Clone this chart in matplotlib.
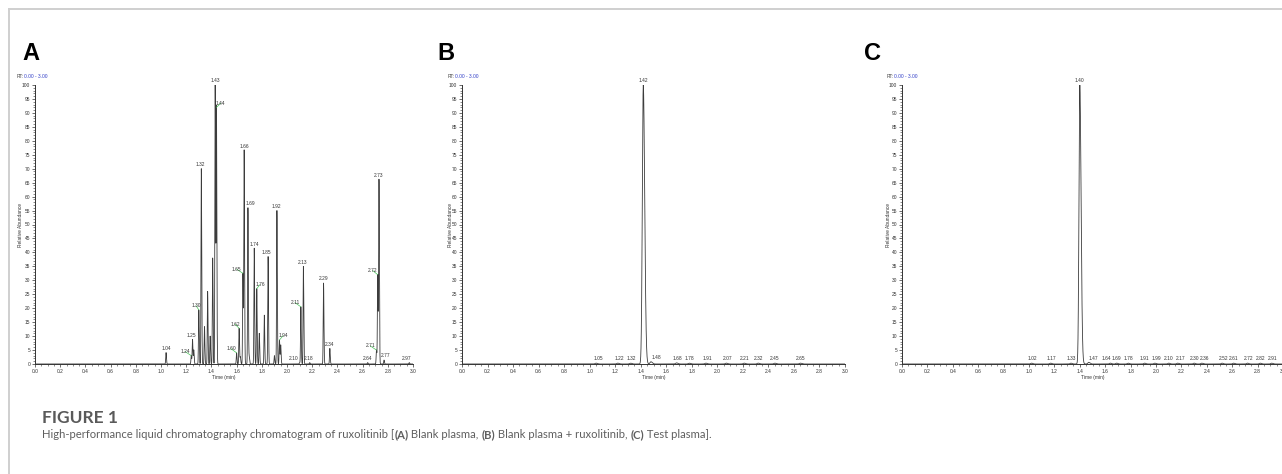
import numpy as np
import matplotlib
matplotlib.use("Agg")
import matplotlib.pyplot as plt
from matplotlib.lines import Line2D
from matplotlib.ticker import MultipleLocator, FixedLocator

# ---------------- data ----------------
# Panel A: blank plasma
a_rt = [1.04, 1.24, 1.25, 1.26, 1.30, 1.32, 1.345, 1.37, 1.39, 1.41, 1.43, 1.44,
        1.60, 1.62, 1.63, 1.65, 1.66, 1.69, 1.70, 1.74, 1.76, 1.78, 1.82, 1.85,
        1.90, 1.92, 1.94, 1.95, 2.10, 2.11, 2.13, 2.18, 2.29, 2.34, 2.64, 2.71,
        2.72, 2.73, 2.77, 2.97]
a_h = [4.1, 3.0, 8.8, 5.0, 19.4, 70.0, 13.4, 26.0, 10.0, 38.0, 100.0, 92.0,
       4.0, 12.8, 2.5, 32.5, 76.5, 56.0, 2.6, 41.5, 27.0, 11.0, 17.5, 38.5,
       3.0, 55.0, 8.6, 6.8, 0.5, 20.5, 35.0, 0.5, 29.0, 5.6, 0.5, 5.0,
       32.0, 66.0, 1.4, 0.5]
a_labels = ["1.04", "1.24", "1.25", "", "1.30", "1.32", "", "", "", "", "1.43", "1.44",
            "1.60", "1.62", "", "1.65", "1.66", "1.69", "", "1.74", "1.76", "", "", "1.85",
            "", "1.92", "1.94", "", "2.10", "2.11", "2.13", "2.18", "2.29", "2.34", "2.64", "2.71",
            "2.72", "2.73", "2.77", "2.97"]

# Panel B: blank plasma + ruxolitinib
b_rt = [1.05, 1.22, 1.32, 1.42, 1.48, 1.68, 1.78, 1.91, 2.07, 2.21, 2.32, 2.45, 2.65]
b_h = [0.3, 0.3, 0.3, 100.0, 0.8, 0.4, 0.3, 0.3, 0.3, 0.3, 0.3, 0.3, 0.3]
b_labels = ["1.05", "1.22", "1.32", "1.42", "1.48", "1.68", "1.78", "1.91", "2.07",
            "2.21", "2.32", "2.45", "2.65"]

# Panel C: test plasma
c_rt = [1.02, 1.17, 1.33, 1.40, 1.47, 1.64, 1.69, 1.78, 1.91, 1.99, 2.10, 2.17,
        2.30, 2.36, 2.52, 2.61, 2.72, 2.82, 2.91]
c_h = [0.3, 0.3, 0.3, 100.0, 0.6, 0.3, 0.3, 0.3, 0.3, 0.3, 0.3, 0.3,
       0.3, 0.3, 0.3, 0.3, 0.3, 0.3, 0.3]
c_labels = ["1.02", "1.17", "1.33", "1.40", "1.47", "1.64", "1.69", "1.78", "1.91",
            "1.99", "2.10", "2.17", "2.30", "2.36", "2.52", "2.61", "2.72", "2.82", "2.91"]

x_ticks = [0.0, 0.2, 0.4, 0.6, 0.8, 1.0, 1.2, 1.4, 1.6, 1.8, 2.0, 2.2, 2.4, 2.6, 2.8, 3.0]
y_ticks = list(range(0, 101, 5))

panel_letters = ["A", "B", "C"]
caption_title = "FIGURE 1"
caption_parts = [("High-performance liquid chromatography chromatogram of ruxolitinib [", False),
                 ("(A)", True), (" Blank plasma, ", False), ("(B)", True),
                 (" Blank plasma + ruxolitinib, ", False), ("(C)", True), (" Test plasma].", False)]

# ---------------- style / layout ----------------
W, H = 1282, 474
fig = plt.figure(figsize=(W / 100, H / 100), dpi=100)
FONT = "Liberation Sans"
TS = 3.5
LINE_C = "#3c3c3c"
GREEN = "#49c45a"

# label x-offsets (min) for labels that sit beside their peak
a_dx = {"1.24": -0.05, "1.25": -0.012, "1.30": -0.022, "1.32": -0.01, "1.44": 0.035,
        "1.60": -0.045, "1.62": -0.033, "1.65": -0.05, "1.69": 0.016, "1.76": 0.026,
        "1.85": -0.01, "1.94": 0.028, "2.10": -0.05, "2.11": -0.047, "2.13": -0.005,
        "2.18": -0.01, "2.71": -0.05, "2.72": -0.04, "2.77": 0.01, "2.97": -0.02}
b_dx = {"1.05": 0.015, "1.22": 0.01, "1.32": 0.01, "1.48": 0.04, "1.68": 0.01,
        "1.91": 0.01, "2.07": 0.01}
c_dx = {"1.02": 0.01, "1.17": 0.01, "1.47": 0.035, "1.64": -0.03, "1.99": 0.015,
        "2.17": 0.02, "2.36": 0.025, "2.52": 0.01, "2.72": 0.01, "2.91": 0.01}

t = np.linspace(0, 3.0, 15001)


def trace(rts, hs, sl, sr):
    y = np.zeros_like(t)
    for rt, h in zip(rts, hs):
        s = np.where(t < rt, sl, sr)
        y += h * np.exp(-0.5 * ((t - rt) / s) ** 2)
    return y


def make_axes(left_px, width_px, letter, letter_px, rt_px, ylab_px):
    ax = fig.add_axes([left_px / W, 1 - 364 / H, width_px / W, (364 - 85) / H])
    ax.set_xlim(0, 3.0)
    ax.set_ylim(0, 100)
    for s in ["top", "right"]:
        ax.spines[s].set_visible(False)
    for s in ["left", "bottom"]:
        ax.spines[s].set_linewidth(0.7)
        ax.spines[s].set_color("#333333")
    ax.xaxis.set_major_locator(FixedLocator(x_ticks))
    ax.set_xticklabels([f"{v:.1f}" for v in x_ticks])
    ax.xaxis.set_minor_locator(MultipleLocator(0.05))
    ax.yaxis.set_major_locator(FixedLocator(y_ticks))
    ax.set_yticklabels([str(v) for v in y_ticks])
    ax.yaxis.set_minor_locator(MultipleLocator(1))
    ax.tick_params(which="major", length=2.5, width=0.5, labelsize=TS, pad=1, colors="#333333")
    ax.tick_params(which="minor", length=1.3, width=0.4, colors="#333333")
    for lab in ax.get_xticklabels() + ax.get_yticklabels():
        lab.set_fontfamily(FONT)
    ax.set_xlabel("Time (min)", fontsize=TS, fontfamily=FONT, labelpad=1, color="#333333")
    fig.text(ylab_px / W, 1 - 225 / H, "Relative Abundance",
             rotation=90, fontsize=TS, fontfamily=FONT, ha="center", va="center", color="#333333")
    fig.text(rt_px / W, 1 - 76 / H, "RT:", fontsize=TS, fontfamily=FONT, color="#444444",
             ha="left", va="center")
    fig.text((rt_px + 7) / W, 1 - 76 / H, "0.00 - 3.00", fontsize=TS, fontfamily=FONT,
             color="#3340c8", ha="left", va="center")
    fig.text(letter_px / W, 1 - 53 / H, letter, fontsize=17, fontweight="bold",
             fontfamily=FONT, ha="left", va="center", color="black")
    return ax


def label_peaks(ax, rts, hs, labels, dx):
    for rt, h, lab in zip(rts, hs, labels):
        if not lab:
            continue
        off = dx.get(lab, 0.0)
        if abs(off) > 0.02 and h > 2:
            ax.annotate(lab, (rt, h), xytext=(rt + off, h + 0.6), textcoords="data",
                        ha="center", va="bottom", fontsize=TS, fontfamily=FONT,
                        color="#333333", annotation_clip=False,
                        arrowprops=dict(arrowstyle="-", color=GREEN, lw=0.5,
                                        shrinkA=0, shrinkB=0))
        else:
            ax.annotate(lab, (rt + off, h), xytext=(0, 1.2), textcoords="offset points",
                        ha="center", va="bottom", fontsize=TS, fontfamily=FONT,
                        color="#333333", annotation_clip=False)


# Panel A
axA = make_axes(35, 378, panel_letters[0], 22, 17, 21)
axA.plot(t, trace(a_rt, a_h, 0.0026, 0.0032), color=LINE_C, lw=0.6)
label_peaks(axA, a_rt, a_h, a_labels, a_dx)

# Panel B
axB = make_axes(462, 383, panel_letters[1], 437, 448, 451)
axB.plot(t, trace(b_rt, b_h, 0.0075, 0.011), color=LINE_C, lw=0.6)
label_peaks(axB, b_rt, b_h, b_labels, b_dx)

# Panel C
axC = make_axes(902, 381, panel_letters[2], 864, 887, 889)
axC.plot(t, trace(c_rt, c_h, 0.0065, 0.010), color=LINE_C, lw=0.6)
label_peaks(axC, c_rt, c_h, c_labels, c_dx)

# Frame lines
fig.add_artist(Line2D([9 / W, 1.0], [1 - 9 / H, 1 - 9 / H], color="#cfcfcf", lw=1.4,
                      transform=fig.transFigure))
fig.add_artist(Line2D([9 / W, 9 / W], [0.0, 1 - 9 / H], color="#cfcfcf", lw=1.4,
                      transform=fig.transFigure))

# Caption
CAPF = "Lato"
fig.text(42 / W, 1 - 418 / H, caption_title, fontsize=12.5, fontweight="bold",
         fontfamily=CAPF, color="#5a5a5a", ha="left", va="center")
renderer = fig.canvas.get_renderer()
x = 42 / W
for txt, bold in caption_parts:
    tt = fig.text(x, 1 - 435 / H, txt, fontsize=8.1, fontfamily=CAPF,
                  fontweight="bold" if bold else "normal", color="#5f5f5f",
                  ha="left", va="center")
    bb = tt.get_window_extent(renderer=renderer)
    x += bb.width / W

fig.savefig("out.png", dpi=100)
